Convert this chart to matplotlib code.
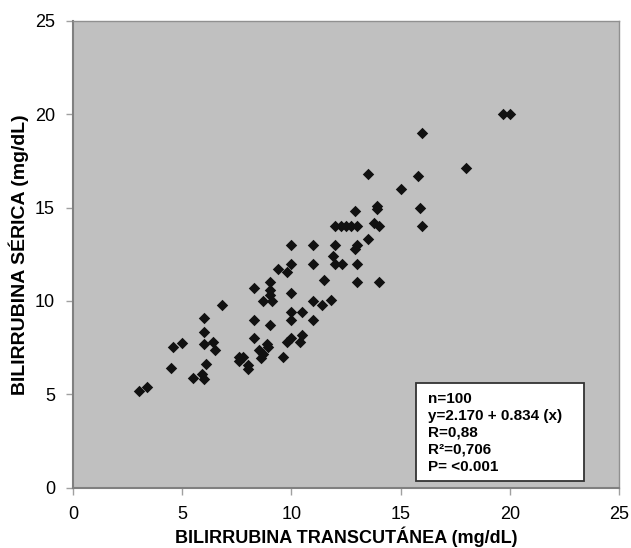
import numpy as np
import matplotlib.pyplot as plt

# Transcutaneous vs serum bilirubin (mg/dL)
transcutanea = [19.7, 20.0, 16.0, 18.0, 13.5, 15.8, 15.0, 12.9, 13.9, 13.9,
                15.9, 12.0, 12.25, 12.5, 12.75, 13.0, 13.8, 14.0, 16.0, 13.5,
                13.0, 12.9, 12.3, 13.0, 13.0, 14.0, 10.0, 11.0, 12.0, 11.9,
                12.0, 11.0, 10.0, 9.4, 9.8, 11.5, 9.0, 8.3, 9.0, 9.0,
                9.1, 8.7, 10.0, 11.0, 11.4, 11.8, 10.0, 10.5, 10.0, 11.0,
                8.3, 9.0, 8.3, 10.5, 10.4, 10.0, 9.8, 8.9, 8.95, 8.5,
                8.7, 8.6, 9.6, 7.6, 7.8, 7.6, 8.0, 8.0, 6.8, 6.0,
                6.0, 6.0, 6.4, 6.5, 4.6, 5.0, 4.5, 6.1, 5.9, 6.0,
                5.5, 3.0, 3.4]
serica = [20.0, 20.0, 19.0, 17.1, 16.8, 16.7, 16.0, 14.8, 15.1, 14.9,
          15.0, 14.0, 14.0, 14.0, 14.0, 14.0, 14.15, 14.0, 14.0, 13.3,
          13.0, 12.8, 12.0, 12.0, 11.0, 11.0, 13.0, 13.0, 13.0, 12.4,
          12.0, 12.0, 12.0, 11.7, 11.55, 11.1, 11.0, 10.7, 10.6, 10.3,
          10.0, 10.0, 10.4, 10.0, 9.8, 10.05, 9.4, 9.4, 9.0, 9.0,
          9.0, 8.7, 8.0, 8.2, 7.8, 8.0, 7.8, 7.7, 7.55, 7.4,
          7.15, 6.95, 7.0, 7.0, 7.0, 6.8, 6.55, 6.35, 9.8, 9.1,
          8.35, 7.7, 7.8, 7.4, 7.55, 7.75, 6.4, 6.6, 6.1, 5.8,
          5.85, 5.2, 5.4]

ticks = [0, 5, 10, 15, 20, 25]
stats_lines = ["n=100", "y=2.170 + 0.834 (x)", "R=0,88", "R²=0,706", "P= <0.001"]

plt.rcParams['font.family'] = ['Liberation Sans', 'DejaVu Sans']

fig = plt.figure(figsize=(6.31, 5.48), dpi=100)
ax = fig.add_axes([0.1157, 0.110, 0.8653, 0.852])
ax.set_facecolor('#c0c0c0')

ax.scatter(transcutanea, serica, marker='D', s=34, color='#111111', linewidths=0, zorder=3)

ax.set_xlim(0, 25)
ax.set_ylim(0, 25)
ax.set_xticks(ticks)
ax.set_yticks(ticks)
ax.tick_params(axis='both', direction='out', length=5, width=1, color='#a0a0a0',
               labelsize=13, pad=8)

for side in ['left', 'bottom']:
    ax.spines[side].set_color('#808080')
    ax.spines[side].set_linewidth(1.5)
for side in ['top', 'right']:
    ax.spines[side].set_color('#909090')
    ax.spines[side].set_linewidth(1.0)

ax.set_xlabel('BILIRRUBINA TRANSCUTÁNEA (mg/dL)', fontsize=13, fontweight='bold', labelpad=3)
ax.set_ylabel('BILIRRUBINA SÉRICA (mg/dL)', fontsize=14, fontweight='bold', labelpad=4)

# stats box
box = plt.Rectangle((0.629, 0.0143), 0.306, 0.211, transform=ax.transAxes,
                    facecolor='white', edgecolor='#333333', linewidth=1.3, zorder=5)
ax.add_patch(box)
for i, line in enumerate(stats_lines):
    ax.text(0.650, 0.191 - i * 0.0365, line, transform=ax.transAxes,
            fontsize=11, fontweight='bold', va='center', ha='left', zorder=6)

fig.savefig('out.png', dpi=100)
